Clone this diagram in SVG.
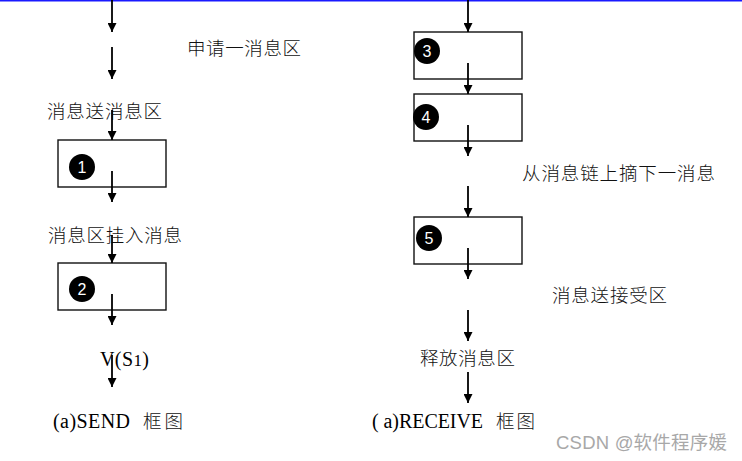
<svg xmlns="http://www.w3.org/2000/svg" width="742" height="461" viewBox="0 0 742 461">
<defs>
<marker id="ah" viewBox="0 0 10 10" refX="10" refY="5" markerWidth="9" markerHeight="9" markerUnits="userSpaceOnUse" orient="auto">
<path d="M0,0 L10,5 L0,10 z" fill="#000"/>
</marker>
<style>
.box{fill:#fff;stroke:#111;stroke-width:1.4}
.num{fill:#000}
.nt{fill:#fff;font-family:"Liberation Sans",Arial,sans-serif;font-size:16px;text-anchor:middle}
.cn{fill:#111;font-family:"Noto Sans CJK SC",sans-serif;font-size:18.5px;font-weight:300}
.tm{fill:#000;font-family:"Liberation Serif","Noto Sans CJK SC",serif;font-size:20px}
.con line{stroke:#000;stroke-width:1.8;marker-end:url(#ah)}
</style>
</defs>
<rect width="742" height="461" fill="#fff"/>
<line x1="0" y1="0.8" x2="742" y2="0.8" stroke="#1a1aff" stroke-width="1.6"/>

<g id="box1"><rect class="box" x="58" y="140" width="108" height="47"/><circle class="num" cx="82" cy="167" r="13"/><text class="nt" x="82" y="172.5">1</text></g>
<g id="box2"><rect class="box" x="58" y="263" width="108" height="47"/><circle class="num" cx="82" cy="289" r="13"/><text class="nt" x="82" y="294.5">2</text></g>
<g id="box3"><rect class="box" x="414" y="32" width="108" height="47"/><circle class="num" cx="427" cy="51" r="13"/><text class="nt" x="427" y="56.5">3</text></g>
<g id="box4"><rect class="box" x="414" y="94" width="108" height="47"/><circle class="num" cx="426" cy="117" r="13"/><text class="nt" x="426" y="122.5">4</text></g>
<g id="box5"><rect class="box" x="414" y="217" width="108" height="47"/><circle class="num" cx="429" cy="238" r="13"/><text class="nt" x="429" y="243.5">5</text></g>

<g id="labels">
<text class="cn" x="187" y="55" textLength="114">申请一消息区</text>
<text class="cn" x="47" y="118" textLength="115">消息送消息区</text>
<text class="cn" x="48" y="242" textLength="134">消息区挂入消息</text>
<text class="tm" x="100" y="366" textLength="49">V(S<tspan font-size="17">1</tspan>)</text>
<text class="tm" x="53" y="428" textLength="77">(a)SEND</text>
<text class="cn" x="143" y="428" textLength="40">框图</text>
<text class="cn" x="522" y="180" textLength="193">从消息链上摘下一消息</text>
<text class="cn" x="552" y="302" textLength="115">消息送接受区</text>
<text class="cn" x="420" y="365" textLength="95">释放消息区</text>
<text class="tm" x="372" y="428" textLength="111">( a)RECEIVE</text>
<text class="cn" x="496" y="428" textLength="39">框图</text>
<text x="556" y="449" fill="#a8a8a8" font-family="'Liberation Sans','Noto Sans CJK SC',sans-serif" font-size="18.5" textLength="171">CSDN @软件程序媛</text>
</g>

<g id="connectors" class="con">
<line x1="112" y1="0" x2="112" y2="32"/>
<line x1="112" y1="47" x2="112" y2="79"/>
<line x1="112" y1="110" x2="112" y2="140"/>
<line x1="112" y1="171" x2="112" y2="202"/>
<line x1="112" y1="235" x2="112" y2="263"/>
<line x1="112" y1="294" x2="112" y2="325"/>
<line x1="112" y1="355" x2="112" y2="387"/>
<line x1="468" y1="0" x2="468" y2="32"/>
<line x1="468" y1="63" x2="468" y2="94"/>
<line x1="468" y1="125" x2="468" y2="156"/>
<line x1="468" y1="186" x2="468" y2="217"/>
<line x1="468" y1="248" x2="468" y2="279"/>
<line x1="468" y1="310" x2="468" y2="341"/>
<line x1="468" y1="372" x2="468" y2="403"/>
</g>
</svg>
